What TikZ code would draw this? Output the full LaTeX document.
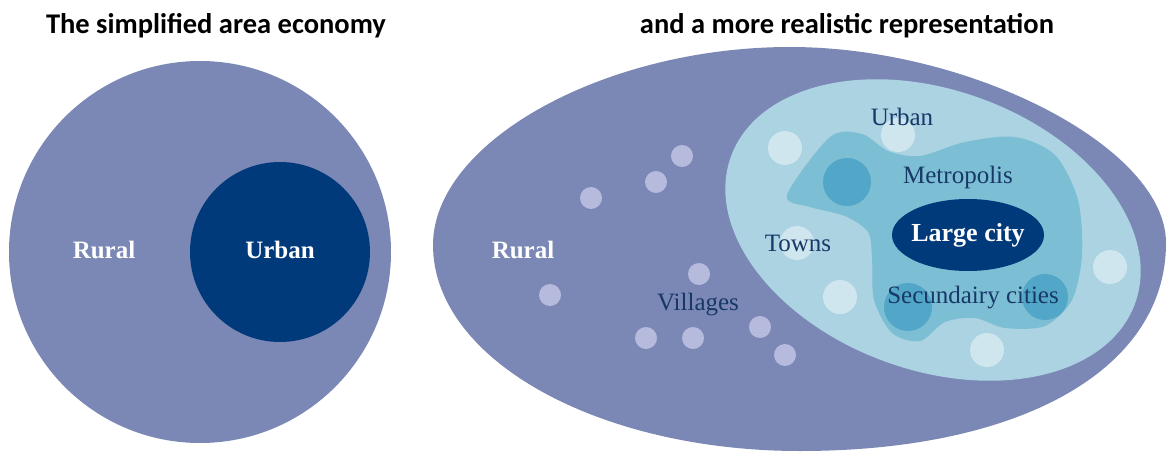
\documentclass[tikz,border=0pt]{standalone}
\usepackage{fontspec}
\setmainfont{Liberation Serif}
\newfontfamily\titlefont{Carlito}
\definecolor{ruralc}{RGB}{123,136,181}
\definecolor{urbandark}{RGB}{0,58,122}
\definecolor{urbanlight}{RGB}{172,211,226}
\definecolor{metroc}{RGB}{124,190,212}
\definecolor{secc}{RGB}{82,166,200}
\definecolor{townc}{RGB}{207,230,238}
\definecolor{villc}{RGB}{182,187,222}
\definecolor{labelc}{RGB}{24,56,104}
\tikzset{
  titletext/.style={font=\titlefont\bfseries\fontsize{28.5}{32}\selectfont, text=black, inner sep=0pt},
  whitelabel/.style={font=\bfseries\fontsize{25}{30}\selectfont, text=white, inner sep=0pt},
  darklabel/.style={font=\fontsize{25}{30}\selectfont, text=labelc, inner sep=0pt},
  village/.style={fill=villc},
  town/.style={fill=townc},
  seccity/.style={fill=secc}
}
\begin{document}
\begin{tikzpicture}[x=1pt,y=-1pt]
\useasboundingbox (0,0) rectangle (1167,452);
% titles
\node[titletext] (t1) at (216,26) {The simplified area economy};
\node[titletext] (t2) at (847,26) {and a more realistic representation};
% left diagram
\fill[ruralc] (200,252) circle[radius=191pt];
\fill[urbandark] (280,252) circle[radius=90pt];
\node[whitelabel] (rural1) at (104,250) {Rural};
\node[whitelabel] (urban1) at (280,250) {Urban};
% right diagram outer shape
\fill[ruralc] (433,245) .. controls (433,142) and (604,47) .. (790,47)
  .. controls (970,47) and (1166,147) .. (1166,243)
  .. controls (1166,370) and (1020,451) .. (800,451)
  .. controls (597,451) and (433,359) .. (433,245) -- cycle;
% villages
\foreach \p in {(682,156),(656,182),(591,198),(550,295),(699,274),(646,338),(693,338),(760,327),(785,355)}
  \fill[village] \p circle[radius=11pt];
% urban light ellipse
\begin{scope}[shift={(933,230)}, rotate=-20]
\fill[urbanlight] (0,0) ellipse[x radius=215pt, y radius=140pt];
\end{scope}
% metropolis blob
\fill[metroc] plot[smooth cycle, tension=0.5] coordinates {
 (787,195) (830,137) (862,134) (888,151) (920,156) (965,142) (1015,137)
 (1055,155) (1078,200) (1082,255) (1072,300) (1045,326) (1005,328)
 (975,318) (945,322) (920,341) (892,333) (874,300) (872,258) (868,232)
 (845,216) (810,207)};
% secondary city circles
\fill[seccity] (847,182) circle[radius=24pt];
\fill[seccity] (908,307) circle[radius=24pt];
\fill[seccity] (1045,297) circle[radius=23pt];
% town circles
\foreach \p in {(785,148),(898,135),(797,243),(840,297),(1110,267),(987,350)}
  \fill[town] \p circle[radius=17pt];
% large city
\fill[urbandark] (968,235) ellipse[x radius=76pt, y radius=36pt];
% labels
\node[whitelabel] (rural2) at (523,250) {Rural};
\node[darklabel] (villages) at (698,305) {Villages};
\node[darklabel] (towns) at (798,243) {Towns};
\node[darklabel] (urban2) at (902,117) {Urban};
\node[darklabel] (metro) at (958,177) {Metropolis};
\node[whitelabel, font=\bfseries\fontsize{26}{30}\selectfont] (large) at (968,235) {Large city};
\node[darklabel] (sec) at (973,298) {Secundairy cities};
\end{tikzpicture}
\end{document}
